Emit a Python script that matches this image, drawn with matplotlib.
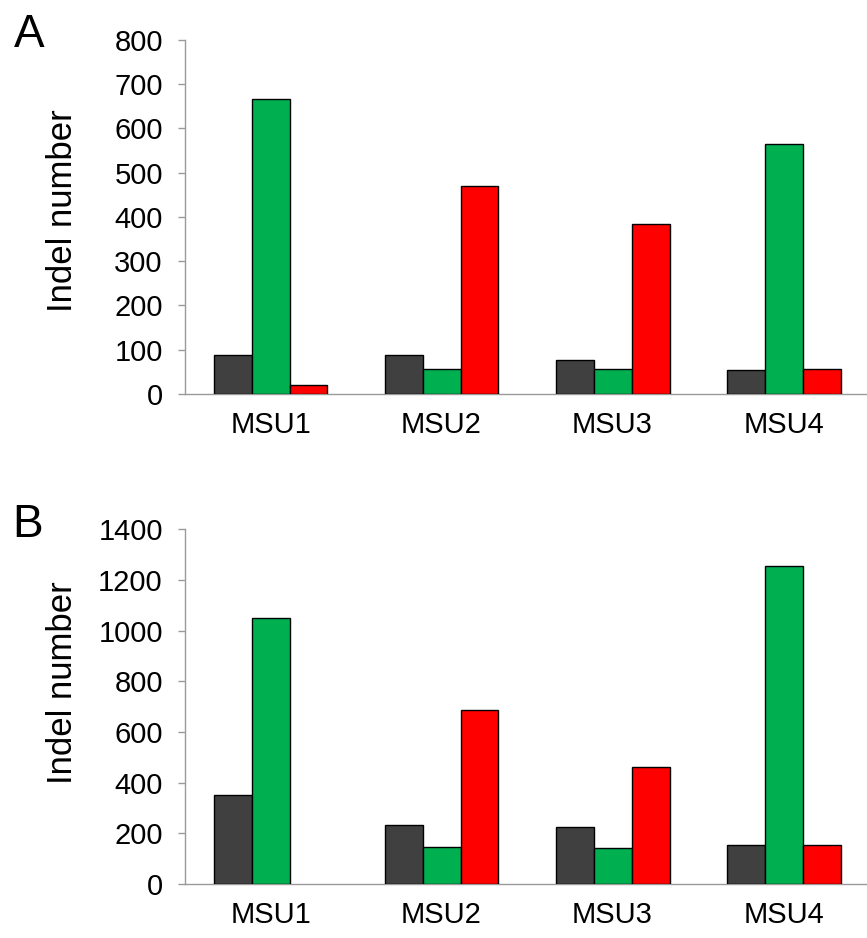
import matplotlib
matplotlib.use("Agg")
import matplotlib.pyplot as plt
import numpy as np

plt.rcParams['font.family'] = ['Liberation Sans', 'DejaVu Sans']

# Data
categories = ["MSU1", "MSU2", "MSU3", "MSU4"]
a_dark = [88, 88, 76, 54]
a_green = [666, 57, 57, 566]
a_red = [20, 470, 384, 57]
b_dark = [350, 233, 226, 154]
b_green = [1050, 147, 141, 1257]
b_red = [0, 687, 460, 155]

colors = ["#404040", "#00B050", "#FF0000"]
spine_col = "#9a9a9a"

fig = plt.figure(figsize=(8.67, 9.38), dpi=100)


def draw_panel(ax, series, ymax, ystep, label_y):
    x = np.arange(len(categories))
    w = 0.222
    for i, (vals, c) in enumerate(zip(series, colors)):
        # empty bars get no outline
        lw = [1.0 if v > 0 else 0 for v in vals]
        ax.bar(x + (i - 1) * w, vals, width=w, color=c,
               edgecolor="black", linewidth=lw, zorder=3)
    ax.set_xlim(-0.5, 3.5)
    ax.set_ylim(0, ymax)
    ax.set_yticks(np.arange(0, ymax + 1, ystep))
    ax.set_xticks(x)
    ax.set_xticklabels(categories)
    for s in ["top", "right"]:
        ax.spines[s].set_visible(False)
    for s in ["left", "bottom"]:
        ax.spines[s].set_color(spine_col)
        ax.spines[s].set_linewidth(1.0)
    ax.tick_params(axis="y", direction="out", length=5, width=1.0,
                   color=spine_col, labelsize=21, pad=11)
    ax.tick_params(axis="x", length=0, labelsize=21, pad=12)
    ax.set_ylabel("Indel number", fontsize=25)
    ax.yaxis.set_label_coords(-0.155, label_y)


ax_a = fig.add_axes([0.2134, 0.580, 0.789, 0.3774])
draw_panel(ax_a, [a_dark, a_green, a_red], 800, 100, 0.517)

ax_b = fig.add_axes([0.2134, 0.0576, 0.789, 0.378])
draw_panel(ax_b, [b_dark, b_green, b_red], 1400, 200, 0.568)

# panel letters
fig.text(0.016, 0.950, "A", fontsize=33, va="baseline", ha="left")
fig.text(0.014, 0.4275, "B", fontsize=33, va="baseline", ha="left")

fig.savefig("out.png", dpi=100)
